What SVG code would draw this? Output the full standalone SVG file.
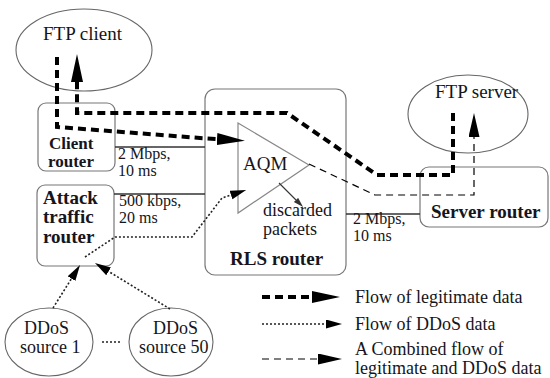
<svg xmlns="http://www.w3.org/2000/svg" width="550" height="378" viewBox="0 0 550 378" font-family="'Liberation Serif', 'DejaVu Serif', serif">
<style>
text{font-family:'Liberation Serif','DejaVu Serif',serif;fill:#151520}
.n{font-size:19px}
.m{font-size:18px}
.b{font-size:19px;font-weight:bold}
.bs{font-size:17px;font-weight:bold}
.l{font-size:16px}
.g{font-size:18px}
.box{fill:#fff;stroke:#777;stroke-width:1.2}
.ell{fill:#fff;stroke:#666;stroke-width:1.1}
.link{stroke:#333;stroke-width:1.3;fill:none}
.thick{stroke:#000;stroke-width:4;stroke-dasharray:8,5;fill:none}
.thin{stroke:#000;stroke-width:1.2;stroke-dasharray:7,5;fill:none}
.dot{stroke:#222;stroke-width:1.6;stroke-dasharray:2,2;fill:none}
</style>
<defs>
<marker id="aThick" markerUnits="userSpaceOnUse" markerWidth="30" markerHeight="14" refX="0" refY="6" orient="auto"><path d="M0,0 L28,6 L0,12 z" fill="#000"/></marker>
<marker id="aThin" markerUnits="userSpaceOnUse" markerWidth="26" markerHeight="12" refX="0" refY="5.5" orient="auto"><path d="M0,0 L24,5.5 L0,11 z" fill="#000"/></marker>
<marker id="aDot" markerUnits="userSpaceOnUse" markerWidth="18" markerHeight="10" refX="0" refY="4.5" orient="auto"><path d="M0,0 L16,4.5 L0,9 z" fill="#000"/></marker>
<marker id="aSmall" markerUnits="userSpaceOnUse" markerWidth="12" markerHeight="8" refX="0" refY="3" orient="auto"><path d="M0,0 L10,3 L0,6 z" fill="#333"/></marker>
</defs>

<g id="ftp-client"><ellipse class="ell" cx="84" cy="50" rx="68" ry="41"/><text class="n" x="43" y="40">FTP client</text></g>
<g id="ftp-server"><ellipse class="ell" cx="468" cy="114" rx="60" ry="39"/><text class="n" x="435" y="98">FTP server</text></g>
<g id="client-router"><rect class="box" x="38" y="103" width="77" height="68" rx="8"/><text class="bs" x="49" y="149">Client</text><text class="bs" x="48" y="167">router</text></g>
<g id="attack-router"><rect class="box" x="37" y="185" width="77" height="81" rx="8"/><text class="b" x="43" y="204">Attack</text><text class="b" x="43" y="223">traffic</text><text class="b" x="43" y="243">router</text></g>
<g id="rls-router"><rect class="box" x="205" y="89" width="141" height="186" rx="10"/><text class="b" x="230" y="265">RLS router</text></g>
<g id="aqm"><polygon points="238,123 309,165 238,213" fill="#fff" stroke="#888" stroke-width="1.2"/><text class="n" x="243" y="170">AQM</text></g>
<g id="discarded"><text class="m" x="263" y="216">discarded</text><text class="m" x="263" y="235">packets</text></g>
<g id="server-router"><rect class="box" x="420" y="167" width="128" height="60" rx="9"/><text class="b" x="431" y="218">Server router</text></g>
<g id="ddos1"><ellipse class="ell" cx="49" cy="342" rx="44" ry="34"/><text class="m" x="24" y="334">DDoS</text><text class="m" x="20" y="353">source 1</text></g>
<g id="ddos50"><ellipse class="ell" cx="171" cy="342" rx="42" ry="34"/><text class="m" x="153" y="334">DDoS</text><text class="m" x="139" y="353">source 50</text></g>
<path class="dot" d="M102,342 H120"/>

<g id="connectors">
<path class="link" d="M115,147 H205"/>
<path class="link" d="M114,194 H205"/>
<path class="link" d="M346,214 H420"/>
<path class="thick" d="M57,57 V127 L200,138 L217,139" marker-end="url(#aThick)"/>
<path class="thick" d="M453,113 V175 H377 L287,113 H77 V82" marker-end="url(#aThick)"/>
<path class="thin" d="M309,164 L375,195 H474 V137" marker-end="url(#aThin)"/>
<path class="dot" d="M53,308 L71.5,278.6" marker-end="url(#aDot)"/>
<path class="dot" d="M170,309 L108.6,271.4" marker-end="url(#aDot)"/>
<path class="dot" d="M85,257 L115,237 H192 L222,198 L231,195" marker-end="url(#aDot)"/>
<path d="M279,183 L296,200" stroke="#333" stroke-width="1.1" fill="none" marker-end="url(#aSmall)"/>
</g>

<g id="labels">
<text class="l" x="118" y="159">2 Mbps,</text><text class="l" x="118" y="176">10 ms</text>
<text class="l" x="119" y="206">500 kbps,</text><text class="l" x="119" y="223">20 ms</text>
<text class="l" x="353" y="224">2 Mbps,</text><text class="l" x="353" y="241">10 ms</text>
</g>

<g id="legend">
<path class="thick" d="M262,297 H312" marker-end="url(#aThick)"/>
<path class="dot" d="M262,324 H326" marker-end="url(#aDot)"/>
<path class="thin" d="M262,359 H318" marker-end="url(#aThin)"/>
<text class="g" x="355" y="303">Flow of legitimate data</text>
<text class="g" x="355" y="330">Flow of DDoS data</text>
<text class="g" x="355" y="355">A Combined flow of</text>
<text class="g" x="355" y="374">legitimate and DDoS data</text>
</g>
</svg>
